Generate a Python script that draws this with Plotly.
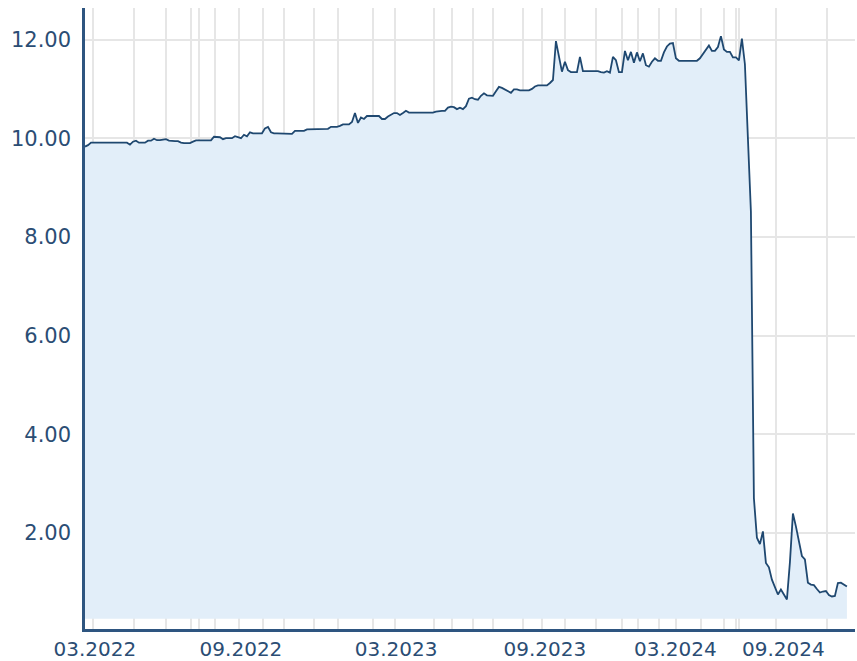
import plotly.graph_objects as go

# Price series (one value per observation, in chronological order)
price = [
    9.83, 9.86, 9.91, 9.91, 9.91, 9.91, 9.91, 9.91, 9.91, 9.91,
    9.91, 9.91, 9.91, 9.91, 9.91, 9.87, 9.93, 9.95, 9.91, 9.91,
    9.91, 9.95, 9.95, 9.99, 9.96, 9.96, 9.97, 9.98, 9.95, 9.94,
    9.94, 9.94, 9.91, 9.90, 9.90, 9.90, 9.93, 9.955, 9.955, 9.955,
    9.955, 9.955, 9.955, 10.03, 10.02, 10.02, 9.98, 10.00, 10.00, 10.00,
    10.04, 10.02, 10.00, 10.07, 10.04, 10.12, 10.10, 10.10, 10.10, 10.10,
    10.20, 10.23, 10.12, 10.10, 10.10, 10.10, 10.10, 10.10, 10.10, 10.09,
    10.15, 10.15, 10.15, 10.15, 10.18, 10.18, 10.18, 10.18, 10.18, 10.18,
    10.18, 10.19, 10.23, 10.23, 10.23, 10.25, 10.28, 10.28, 10.28, 10.33,
    10.51, 10.31, 10.42, 10.39, 10.45, 10.45, 10.45, 10.45, 10.45, 10.39,
    10.39, 10.44, 10.48, 10.51, 10.51, 10.47, 10.51, 10.555, 10.52, 10.52,
    10.52, 10.52, 10.52, 10.52, 10.52, 10.52, 10.52, 10.54, 10.555, 10.555,
    10.555, 10.62, 10.64, 10.63, 10.59, 10.62, 10.59, 10.65, 10.80, 10.82,
    10.79, 10.78, 10.86, 10.91, 10.87, 10.86, 10.86, 10.95, 11.04, 11.02,
    10.99, 10.96, 10.92, 10.99, 10.99, 10.97, 10.97, 10.97, 10.97, 11.00,
    11.05, 11.07, 11.07, 11.07, 11.07, 11.12, 11.18, 11.97, 11.62, 11.35,
    11.55, 11.38, 11.34, 11.34, 11.34, 11.65, 11.36, 11.36, 11.36, 11.36,
    11.36, 11.36, 11.34, 11.33, 11.36, 11.33, 11.65, 11.58, 11.34, 11.34,
    11.77, 11.58, 11.75, 11.53, 11.74, 11.56, 11.72, 11.48, 11.45, 11.55,
    11.62, 11.57, 11.57, 11.74, 11.86, 11.92, 11.93, 11.62, 11.57, 11.57,
    11.57, 11.57, 11.57, 11.57, 11.57, 11.62, 11.70, 11.80, 11.88, 11.77,
    11.77, 11.85, 12.07, 11.80, 11.75, 11.75, 11.64, 11.64, 11.58, 12.02,
    11.50, 10.00, 8.51, 2.70, 1.90, 1.77, 2.03, 1.39, 1.30, 1.05,
    0.89, 0.75, 0.85, 0.76, 0.65, 1.40, 2.39, 2.13, 1.80, 1.53,
    1.46, 0.99, 0.95, 0.94, 0.86, 0.79, 0.81, 0.82, 0.74, 0.71,
    0.72, 0.98, 0.99, 0.95, 0.91,
]

# Month boundaries (observation index) -> vertical gridlines
month_bounds = [2.5, 16.5, 27, 35.5, 38, 43.5, 51.5, 59.5, 66.5, 76.5, 84.5,
                96, 103.5, 116.5, 122.5, 129.5, 136, 146, 152.5, 160, 170.5,
                179, 184.5, 191.5, 197, 205.5, 213, 217, 218, 230.5, 247.5]

# Labelled ticks on the time axis
tick_pos = [3.3, 52, 103.7, 153.3, 196.8, 232.8]
tick_labels = ["03.2022", "09.2022", "03.2023", "09.2023", "03.2024", "09.2024"]

y_ticks = [2, 4, 6, 8, 10, 12]
fill_base = 0.26

idx = list(range(len(price)))

TEXT = "#2b4d74"
LINE = "#1f4870"
AXIS = "#2e5580"
GRID = "#e6e6e6"
FILL = "#e2eef9"

fig = go.Figure()
fig.add_trace(go.Scatter(
    x=idx, y=[fill_base] * len(idx), mode="lines",
    line=dict(width=0, color="rgba(0,0,0,0)"), hoverinfo="skip", showlegend=False,
))
fig.add_trace(go.Scatter(
    x=idx, y=price, mode="lines", fill="tonexty", fillcolor=FILL,
    line=dict(color=LINE, width=1.8), showlegend=False,
))

fig.update_layout(
    width=857, height=661,
    margin=dict(l=85, r=2, t=8, b=32, autoexpand=False),
    paper_bgcolor="white", plot_bgcolor="white",
    font=dict(family="DejaVu Sans, Verdana, sans-serif", size=20, color=TEXT),
    xaxis=dict(
        range=[0, 256.7], automargin=False,
        tickmode="array", tickvals=tick_pos, ticktext=tick_labels,
        showgrid=False, zeroline=False,
        showline=True, linecolor=AXIS, linewidth=2.5,
        ticks="", ticklabelstandoff=0,
        minor=dict(tickmode="array", tickvals=month_bounds, showgrid=True,
                   gridcolor=GRID, gridwidth=2, ticks=""),
        tickfont=dict(size=20, color=TEXT),
    ),
    yaxis=dict(
        range=[0.05, 12.64], automargin=False,
        tickmode="array", tickvals=y_ticks, tickformat=".2f",
        showgrid=True, gridcolor=GRID, gridwidth=2, zeroline=False,
        showline=True, linecolor=AXIS, linewidth=2.5,
        ticks="", ticklabelstandoff=7,
        tickfont=dict(size=21, color=TEXT),
    ),
)

fig.write_html(
    "out.html",
    config={"displayModeBar": False},
    post_script="document.body.style.margin='0';document.body.style.overflow='hidden';",
)
